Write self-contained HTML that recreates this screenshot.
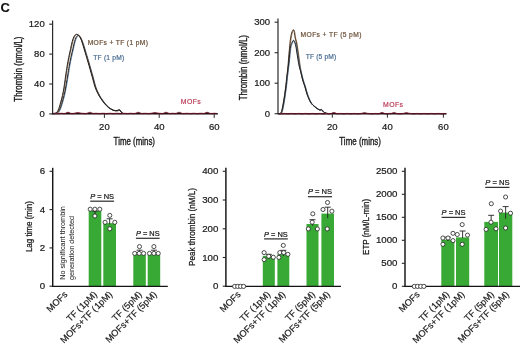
<!DOCTYPE html>
<html><head><meta charset="utf-8"><style>
html,body{margin:0;padding:0;background:#fff;width:520px;height:345px;overflow:hidden}
svg{display:block;font-family:"Liberation Sans", sans-serif;will-change:transform;filter:blur(0.3px)}
</style></head><body>
<svg width="520" height="345" viewBox="0 0 520 345">
<rect width="520" height="345" fill="#fff"/>
<text x="0.40" y="11.50" font-size="13.00" text-anchor="start" fill="#111" font-weight="bold" stroke="#111" stroke-width="0.10" >C</text>
<line x1="52.60" y1="20.60" x2="52.60" y2="114.40" stroke="#2a2a2a" stroke-width="1.20"/>
<line x1="49.20" y1="24.20" x2="52.60" y2="24.20" stroke="#2a2a2a" stroke-width="1.10"/>
<text x="44.70" y="27.30" font-size="8.80" text-anchor="end" fill="#1a1a1a" textLength="15.90" lengthAdjust="spacingAndGlyphs" stroke="#1a1a1a" stroke-width="0.20" >120</text>
<line x1="49.20" y1="54.10" x2="52.60" y2="54.10" stroke="#2a2a2a" stroke-width="1.10"/>
<text x="44.70" y="57.20" font-size="8.80" text-anchor="end" fill="#1a1a1a" textLength="10.60" lengthAdjust="spacingAndGlyphs" stroke="#1a1a1a" stroke-width="0.20" >80</text>
<line x1="49.20" y1="84.00" x2="52.60" y2="84.00" stroke="#2a2a2a" stroke-width="1.10"/>
<text x="44.70" y="87.10" font-size="8.80" text-anchor="end" fill="#1a1a1a" textLength="10.60" lengthAdjust="spacingAndGlyphs" stroke="#1a1a1a" stroke-width="0.20" >40</text>
<line x1="49.20" y1="113.90" x2="52.60" y2="113.90" stroke="#2a2a2a" stroke-width="1.10"/>
<text x="44.70" y="117.00" font-size="8.80" text-anchor="end" fill="#1a1a1a" textLength="5.30" lengthAdjust="spacingAndGlyphs" stroke="#1a1a1a" stroke-width="0.20" >0</text>
<line x1="52.60" y1="113.70" x2="217.80" y2="113.70" stroke="#220a10" stroke-width="1.60"/>
<line x1="104.40" y1="113.90" x2="104.40" y2="117.90" stroke="#2a2a2a" stroke-width="1.00"/>
<text x="104.40" y="129.60" font-size="8.80" text-anchor="middle" fill="#1a1a1a" textLength="10.60" lengthAdjust="spacingAndGlyphs" stroke="#1a1a1a" stroke-width="0.20" >20</text>
<line x1="159.20" y1="113.90" x2="159.20" y2="117.90" stroke="#2a2a2a" stroke-width="1.00"/>
<text x="159.20" y="129.60" font-size="8.80" text-anchor="middle" fill="#1a1a1a" textLength="10.60" lengthAdjust="spacingAndGlyphs" stroke="#1a1a1a" stroke-width="0.20" >40</text>
<line x1="214.20" y1="113.90" x2="214.20" y2="117.90" stroke="#2a2a2a" stroke-width="1.00"/>
<text x="214.20" y="129.60" font-size="8.80" text-anchor="middle" fill="#1a1a1a" textLength="10.60" lengthAdjust="spacingAndGlyphs" stroke="#1a1a1a" stroke-width="0.20" >60</text>
<text x="113.60" y="145.20" font-size="10.40" text-anchor="start" fill="#1a1a1a" textLength="41.40" lengthAdjust="spacingAndGlyphs" stroke="#1a1a1a" stroke-width="0.35" >Time (mins)</text>
<text x="21.60" y="101.70" font-size="10.40" text-anchor="start" fill="#1a1a1a" textLength="65.20" lengthAdjust="spacingAndGlyphs" transform="rotate(-90.00 21.60 101.70)" stroke="#1a1a1a" stroke-width="0.35" >Thrombin (nmol/L)</text>
<line x1="278.00" y1="18.50" x2="278.00" y2="114.20" stroke="#2a2a2a" stroke-width="1.20"/>
<line x1="274.60" y1="22.20" x2="278.00" y2="22.20" stroke="#2a2a2a" stroke-width="1.10"/>
<text x="270.10" y="25.30" font-size="8.80" text-anchor="end" fill="#1a1a1a" textLength="15.90" lengthAdjust="spacingAndGlyphs" stroke="#1a1a1a" stroke-width="0.20" >300</text>
<line x1="274.60" y1="52.70" x2="278.00" y2="52.70" stroke="#2a2a2a" stroke-width="1.10"/>
<text x="270.10" y="55.80" font-size="8.80" text-anchor="end" fill="#1a1a1a" textLength="15.90" lengthAdjust="spacingAndGlyphs" stroke="#1a1a1a" stroke-width="0.20" >200</text>
<line x1="274.60" y1="83.20" x2="278.00" y2="83.20" stroke="#2a2a2a" stroke-width="1.10"/>
<text x="270.10" y="86.30" font-size="8.80" text-anchor="end" fill="#1a1a1a" textLength="15.90" lengthAdjust="spacingAndGlyphs" stroke="#1a1a1a" stroke-width="0.20" >100</text>
<line x1="274.60" y1="113.70" x2="278.00" y2="113.70" stroke="#2a2a2a" stroke-width="1.10"/>
<text x="270.10" y="116.80" font-size="8.80" text-anchor="end" fill="#1a1a1a" textLength="5.30" lengthAdjust="spacingAndGlyphs" stroke="#1a1a1a" stroke-width="0.20" >0</text>
<line x1="278.00" y1="113.70" x2="446.50" y2="113.70" stroke="#220a10" stroke-width="1.60"/>
<line x1="332.30" y1="113.70" x2="332.30" y2="117.70" stroke="#2a2a2a" stroke-width="1.00"/>
<text x="332.30" y="129.60" font-size="8.80" text-anchor="middle" fill="#1a1a1a" textLength="10.60" lengthAdjust="spacingAndGlyphs" stroke="#1a1a1a" stroke-width="0.20" >20</text>
<line x1="387.40" y1="113.70" x2="387.40" y2="117.70" stroke="#2a2a2a" stroke-width="1.00"/>
<text x="387.40" y="129.60" font-size="8.80" text-anchor="middle" fill="#1a1a1a" textLength="10.60" lengthAdjust="spacingAndGlyphs" stroke="#1a1a1a" stroke-width="0.20" >40</text>
<line x1="443.40" y1="113.70" x2="443.40" y2="117.70" stroke="#2a2a2a" stroke-width="1.00"/>
<text x="443.40" y="129.60" font-size="8.80" text-anchor="middle" fill="#1a1a1a" textLength="10.60" lengthAdjust="spacingAndGlyphs" stroke="#1a1a1a" stroke-width="0.20" >60</text>
<text x="339.30" y="145.20" font-size="10.40" text-anchor="start" fill="#1a1a1a" textLength="41.70" lengthAdjust="spacingAndGlyphs" stroke="#1a1a1a" stroke-width="0.35" >Time (mins)</text>
<text x="247.40" y="100.30" font-size="10.40" text-anchor="start" fill="#1a1a1a" textLength="65.30" lengthAdjust="spacingAndGlyphs" transform="rotate(-90.00 247.40 100.30)" stroke="#1a1a1a" stroke-width="0.35" >Thrombin (nmol/L)</text>
<path d="M52.60 113.60 C53.22 113.55 55.27 113.70 56.30 113.30 C57.33 112.90 57.95 112.63 58.80 111.20 C59.65 109.77 60.40 107.92 61.40 104.70 C62.40 101.48 63.77 96.68 64.80 91.90 C65.83 87.12 66.87 80.30 67.60 76.00 C68.33 71.70 68.65 69.20 69.20 66.10 C69.75 63.00 70.28 60.30 70.90 57.40 C71.52 54.50 72.30 51.30 72.90 48.70 C73.50 46.10 73.98 43.65 74.50 41.80 C75.02 39.95 75.55 38.58 76.00 37.60 C76.45 36.62 76.82 36.25 77.20 35.90 C77.58 35.55 77.90 35.38 78.30 35.50 C78.70 35.62 79.10 35.92 79.60 36.60 C80.10 37.28 80.68 38.22 81.30 39.60 C81.92 40.98 82.53 42.60 83.30 44.90 C84.07 47.20 85.03 50.53 85.90 53.40 C86.77 56.27 87.35 58.13 88.50 62.10 C89.65 66.07 91.65 73.07 92.80 77.20 C93.95 81.33 94.48 84.17 95.40 86.90 C96.32 89.63 97.35 91.68 98.30 93.60 C99.25 95.52 99.98 96.72 101.10 98.40 C102.22 100.08 103.72 102.18 105.00 103.70 C106.28 105.22 107.38 106.40 108.80 107.50 C110.22 108.60 112.10 109.78 113.50 110.30 C114.90 110.82 116.32 110.65 117.20 110.60 C118.08 110.55 118.37 110.08 118.80 110.00 C119.23 109.92 119.37 109.70 119.80 110.10 C120.23 110.50 120.87 111.83 121.40 112.40 C121.93 112.97 122.73 113.32 123.00 113.50" fill="none" stroke="#44709e" stroke-width="0.8" stroke-linejoin="round" transform="translate(0.55 0.25)"/>
<path d="M52.60 113.60 C53.22 113.55 55.27 113.70 56.30 113.30 C57.33 112.90 57.95 112.63 58.80 111.20 C59.65 109.77 60.40 107.92 61.40 104.70 C62.40 101.48 63.77 96.68 64.80 91.90 C65.83 87.12 66.87 80.30 67.60 76.00 C68.33 71.70 68.65 69.20 69.20 66.10 C69.75 63.00 70.28 60.30 70.90 57.40 C71.52 54.50 72.30 51.30 72.90 48.70 C73.50 46.10 73.98 43.65 74.50 41.80 C75.02 39.95 75.55 38.58 76.00 37.60 C76.45 36.62 76.82 36.25 77.20 35.90 C77.58 35.55 77.90 35.38 78.30 35.50 C78.70 35.62 79.10 35.92 79.60 36.60 C80.10 37.28 80.68 38.22 81.30 39.60 C81.92 40.98 82.53 42.60 83.30 44.90 C84.07 47.20 85.03 50.53 85.90 53.40 C86.77 56.27 87.35 58.13 88.50 62.10 C89.65 66.07 91.65 73.07 92.80 77.20 C93.95 81.33 94.48 84.17 95.40 86.90 C96.32 89.63 97.35 91.68 98.30 93.60 C99.25 95.52 99.98 96.72 101.10 98.40 C102.22 100.08 103.72 102.18 105.00 103.70 C106.28 105.22 107.38 106.40 108.80 107.50 C110.22 108.60 112.10 109.78 113.50 110.30 C114.90 110.82 116.32 110.65 117.20 110.60 C118.08 110.55 118.37 110.08 118.80 110.00 C119.23 109.92 119.37 109.70 119.80 110.10 C120.23 110.50 120.87 111.83 121.40 112.40 C121.93 112.97 122.73 113.32 123.00 113.50" fill="none" stroke="#1c1c1c" stroke-width="0.95" stroke-linejoin="round"/>
<path d="M52.60 113.60 C53.00 113.55 54.17 113.70 55.00 113.30 C55.83 112.90 56.77 112.63 57.60 111.20 C58.43 109.77 59.07 107.92 60.00 104.70 C60.93 101.48 62.27 96.68 63.20 91.90 C64.13 87.12 64.95 80.30 65.60 76.00 C66.25 71.70 66.58 69.20 67.10 66.10 C67.62 63.00 68.12 60.30 68.70 57.40 C69.28 54.50 70.02 51.35 70.60 48.70 C71.18 46.05 71.67 43.45 72.20 41.50 C72.73 39.55 73.28 38.12 73.80 37.00 C74.32 35.88 74.83 35.25 75.30 34.80 C75.77 34.35 76.15 34.30 76.60 34.30 C77.05 34.30 77.55 34.52 78.00 34.80 C78.45 35.08 78.80 35.27 79.30 36.00 C79.80 36.73 80.42 37.75 81.00 39.20 C81.58 40.65 82.07 42.33 82.80 44.70 C83.53 47.07 84.53 50.50 85.40 53.40 C86.27 56.30 86.85 58.13 88.00 62.10 C89.15 66.07 91.13 73.07 92.30 77.20 C93.47 81.33 94.07 84.17 95.00 86.90 C95.93 89.63 96.95 91.68 97.90 93.60 C98.85 95.52 99.58 96.72 100.70 98.40 C101.82 100.08 103.32 102.18 104.60 103.70 C105.88 105.22 106.97 106.42 108.40 107.50 C109.83 108.58 111.77 109.70 113.20 110.20 C114.63 110.70 116.10 110.55 117.00 110.50 C117.90 110.45 118.17 109.98 118.60 109.90 C119.03 109.82 119.15 109.60 119.60 110.00 C120.05 110.40 120.73 111.72 121.30 112.30 C121.87 112.88 122.72 113.30 123.00 113.50" fill="none" stroke="#7d5530" stroke-width="0.8" stroke-linejoin="round" transform="translate(0.55 0.25)"/>
<path d="M52.60 113.60 C53.00 113.55 54.17 113.70 55.00 113.30 C55.83 112.90 56.77 112.63 57.60 111.20 C58.43 109.77 59.07 107.92 60.00 104.70 C60.93 101.48 62.27 96.68 63.20 91.90 C64.13 87.12 64.95 80.30 65.60 76.00 C66.25 71.70 66.58 69.20 67.10 66.10 C67.62 63.00 68.12 60.30 68.70 57.40 C69.28 54.50 70.02 51.35 70.60 48.70 C71.18 46.05 71.67 43.45 72.20 41.50 C72.73 39.55 73.28 38.12 73.80 37.00 C74.32 35.88 74.83 35.25 75.30 34.80 C75.77 34.35 76.15 34.30 76.60 34.30 C77.05 34.30 77.55 34.52 78.00 34.80 C78.45 35.08 78.80 35.27 79.30 36.00 C79.80 36.73 80.42 37.75 81.00 39.20 C81.58 40.65 82.07 42.33 82.80 44.70 C83.53 47.07 84.53 50.50 85.40 53.40 C86.27 56.30 86.85 58.13 88.00 62.10 C89.15 66.07 91.13 73.07 92.30 77.20 C93.47 81.33 94.07 84.17 95.00 86.90 C95.93 89.63 96.95 91.68 97.90 93.60 C98.85 95.52 99.58 96.72 100.70 98.40 C101.82 100.08 103.32 102.18 104.60 103.70 C105.88 105.22 106.97 106.42 108.40 107.50 C109.83 108.58 111.77 109.70 113.20 110.20 C114.63 110.70 116.10 110.55 117.00 110.50 C117.90 110.45 118.17 109.98 118.60 109.90 C119.03 109.82 119.15 109.60 119.60 110.00 C120.05 110.40 120.73 111.72 121.30 112.30 C121.87 112.88 122.72 113.30 123.00 113.50" fill="none" stroke="#1c1c1c" stroke-width="0.95" stroke-linejoin="round"/>
<path d="M278.00 113.60 C278.40 113.55 279.77 113.83 280.40 113.30 C281.03 112.77 281.32 112.12 281.80 110.40 C282.28 108.68 282.83 105.60 283.30 103.00 C283.77 100.40 284.18 97.63 284.60 94.80 C285.02 91.97 285.45 88.90 285.80 86.00 C286.15 83.10 286.40 80.07 286.70 77.40 C287.00 74.73 287.33 72.57 287.60 70.00 C287.87 67.43 288.08 64.67 288.30 62.00 C288.52 59.33 288.70 56.33 288.90 54.00 C289.10 51.67 289.33 49.77 289.50 48.00 C289.67 46.23 289.72 45.08 289.90 43.40 C290.08 41.72 290.32 39.63 290.60 37.90 C290.88 36.17 291.27 34.22 291.60 33.00 C291.93 31.78 292.30 31.15 292.60 30.60 C292.90 30.05 293.17 29.60 293.40 29.70 C293.63 29.80 293.83 30.65 294.00 31.20 C294.17 31.75 294.22 31.88 294.40 33.00 C294.58 34.12 294.80 36.40 295.10 37.90 C295.40 39.40 295.85 40.32 296.20 42.00 C296.55 43.68 296.87 45.83 297.20 48.00 C297.53 50.17 297.85 52.50 298.20 55.00 C298.55 57.50 298.90 60.33 299.30 63.00 C299.70 65.67 300.05 68.17 300.60 71.00 C301.15 73.83 301.90 77.40 302.60 80.00 C303.30 82.60 304.07 84.22 304.80 86.60 C305.53 88.98 306.08 91.73 307.00 94.30 C307.92 96.87 309.20 100.07 310.30 102.00 C311.40 103.93 312.32 104.70 313.60 105.90 C314.88 107.10 316.90 108.53 318.00 109.20 C319.10 109.87 319.68 109.88 320.20 109.90 C320.72 109.92 320.80 109.25 321.10 109.30 C321.40 109.35 321.60 109.75 322.00 110.20 C322.40 110.65 322.83 111.50 323.50 112.00 C324.17 112.50 325.08 112.93 326.00 113.20 C326.92 113.47 328.50 113.53 329.00 113.60" fill="none" stroke="#7d5530" stroke-width="0.8" stroke-linejoin="round" transform="translate(0.55 0.25)"/>
<path d="M278.00 113.60 C278.40 113.55 279.77 113.83 280.40 113.30 C281.03 112.77 281.32 112.12 281.80 110.40 C282.28 108.68 282.83 105.60 283.30 103.00 C283.77 100.40 284.18 97.63 284.60 94.80 C285.02 91.97 285.45 88.90 285.80 86.00 C286.15 83.10 286.40 80.07 286.70 77.40 C287.00 74.73 287.33 72.57 287.60 70.00 C287.87 67.43 288.08 64.67 288.30 62.00 C288.52 59.33 288.70 56.33 288.90 54.00 C289.10 51.67 289.33 49.77 289.50 48.00 C289.67 46.23 289.72 45.08 289.90 43.40 C290.08 41.72 290.32 39.63 290.60 37.90 C290.88 36.17 291.27 34.22 291.60 33.00 C291.93 31.78 292.30 31.15 292.60 30.60 C292.90 30.05 293.17 29.60 293.40 29.70 C293.63 29.80 293.83 30.65 294.00 31.20 C294.17 31.75 294.22 31.88 294.40 33.00 C294.58 34.12 294.80 36.40 295.10 37.90 C295.40 39.40 295.85 40.32 296.20 42.00 C296.55 43.68 296.87 45.83 297.20 48.00 C297.53 50.17 297.85 52.50 298.20 55.00 C298.55 57.50 298.90 60.33 299.30 63.00 C299.70 65.67 300.05 68.17 300.60 71.00 C301.15 73.83 301.90 77.40 302.60 80.00 C303.30 82.60 304.07 84.22 304.80 86.60 C305.53 88.98 306.08 91.73 307.00 94.30 C307.92 96.87 309.20 100.07 310.30 102.00 C311.40 103.93 312.32 104.70 313.60 105.90 C314.88 107.10 316.90 108.53 318.00 109.20 C319.10 109.87 319.68 109.88 320.20 109.90 C320.72 109.92 320.80 109.25 321.10 109.30 C321.40 109.35 321.60 109.75 322.00 110.20 C322.40 110.65 322.83 111.50 323.50 112.00 C324.17 112.50 325.08 112.93 326.00 113.20 C326.92 113.47 328.50 113.53 329.00 113.60" fill="none" stroke="#4a3522" stroke-width="0.95" stroke-linejoin="round"/>
<path d="M278.00 113.60 C278.43 113.55 279.93 113.83 280.60 113.30 C281.27 112.77 281.52 112.12 282.00 110.40 C282.48 108.68 283.03 105.60 283.50 103.00 C283.97 100.40 284.38 97.63 284.80 94.80 C285.22 91.97 285.65 88.90 286.00 86.00 C286.35 83.10 286.60 80.07 286.90 77.40 C287.20 74.73 287.50 72.40 287.80 70.00 C288.10 67.60 288.40 65.58 288.70 63.00 C289.00 60.42 289.30 57.20 289.60 54.50 C289.90 51.80 290.12 48.75 290.50 46.80 C290.88 44.85 291.42 43.88 291.90 42.80 C292.38 41.72 292.92 40.30 293.40 40.30 C293.88 40.30 294.37 41.68 294.80 42.80 C295.23 43.92 295.65 45.30 296.00 47.00 C296.35 48.70 296.58 51.00 296.90 53.00 C297.22 55.00 297.53 56.83 297.90 59.00 C298.27 61.17 298.62 63.83 299.10 66.00 C299.58 68.17 300.18 69.67 300.80 72.00 C301.42 74.33 302.10 77.57 302.80 80.00 C303.50 82.43 304.27 84.22 305.00 86.60 C305.73 88.98 306.28 91.73 307.20 94.30 C308.12 96.87 309.40 100.07 310.50 102.00 C311.60 103.93 312.52 104.70 313.80 105.90 C315.08 107.10 317.10 108.52 318.20 109.20 C319.30 109.88 319.88 109.95 320.40 110.00 C320.92 110.05 321.00 109.45 321.30 109.50 C321.60 109.55 321.80 109.87 322.20 110.30 C322.60 110.73 323.07 111.62 323.70 112.10 C324.33 112.58 325.12 112.95 326.00 113.20 C326.88 113.45 328.50 113.53 329.00 113.60" fill="none" stroke="#44709e" stroke-width="0.8" stroke-linejoin="round" transform="translate(0.55 0.25)"/>
<path d="M278.00 113.60 C278.43 113.55 279.93 113.83 280.60 113.30 C281.27 112.77 281.52 112.12 282.00 110.40 C282.48 108.68 283.03 105.60 283.50 103.00 C283.97 100.40 284.38 97.63 284.80 94.80 C285.22 91.97 285.65 88.90 286.00 86.00 C286.35 83.10 286.60 80.07 286.90 77.40 C287.20 74.73 287.50 72.40 287.80 70.00 C288.10 67.60 288.40 65.58 288.70 63.00 C289.00 60.42 289.30 57.20 289.60 54.50 C289.90 51.80 290.12 48.75 290.50 46.80 C290.88 44.85 291.42 43.88 291.90 42.80 C292.38 41.72 292.92 40.30 293.40 40.30 C293.88 40.30 294.37 41.68 294.80 42.80 C295.23 43.92 295.65 45.30 296.00 47.00 C296.35 48.70 296.58 51.00 296.90 53.00 C297.22 55.00 297.53 56.83 297.90 59.00 C298.27 61.17 298.62 63.83 299.10 66.00 C299.58 68.17 300.18 69.67 300.80 72.00 C301.42 74.33 302.10 77.57 302.80 80.00 C303.50 82.43 304.27 84.22 305.00 86.60 C305.73 88.98 306.28 91.73 307.20 94.30 C308.12 96.87 309.40 100.07 310.50 102.00 C311.60 103.93 312.52 104.70 313.80 105.90 C315.08 107.10 317.10 108.52 318.20 109.20 C319.30 109.88 319.88 109.95 320.40 110.00 C320.92 110.05 321.00 109.45 321.30 109.50 C321.60 109.55 321.80 109.87 322.20 110.30 C322.60 110.73 323.07 111.62 323.70 112.10 C324.33 112.58 325.12 112.95 326.00 113.20 C326.88 113.45 328.50 113.53 329.00 113.60" fill="none" stroke="#1c1c1c" stroke-width="0.95" stroke-linejoin="round"/>
<path d="M53.50 113.50 C53.70 113.50 54.30 113.48 54.70 113.50 C55.10 113.51 55.50 113.57 55.90 113.61 C56.30 113.64 56.70 113.69 57.10 113.71 C57.50 113.72 57.90 113.72 58.30 113.70 C58.70 113.68 59.10 113.62 59.50 113.58 C59.90 113.55 60.30 113.50 60.70 113.49 C61.10 113.48 61.50 113.49 61.90 113.51 C62.30 113.53 62.70 113.60 63.10 113.63 C63.50 113.66 63.90 113.71 64.30 113.68 C64.70 113.66 65.10 113.60 65.50 113.47 C65.90 113.34 66.30 113.07 66.70 112.90 C67.10 112.74 67.50 112.50 67.90 112.48 C68.30 112.46 68.70 112.64 69.10 112.79 C69.50 112.94 69.90 113.24 70.30 113.38 C70.70 113.53 71.10 113.63 71.50 113.67 C71.90 113.72 72.30 113.68 72.70 113.66 C73.10 113.63 73.50 113.57 73.90 113.52 C74.30 113.47 74.70 113.43 75.10 113.36 C75.50 113.28 75.90 113.17 76.30 113.06 C76.70 112.96 77.10 112.77 77.50 112.73 C77.90 112.69 78.30 112.75 78.70 112.83 C79.10 112.92 79.50 113.14 79.90 113.24 C80.30 113.33 80.70 113.39 81.10 113.43 C81.50 113.47 81.90 113.45 82.30 113.47 C82.70 113.50 83.10 113.53 83.50 113.57 C83.90 113.61 84.30 113.67 84.70 113.69 C85.10 113.71 85.50 113.73 85.90 113.70 C86.30 113.67 86.70 113.61 87.10 113.50 C87.50 113.38 87.90 113.18 88.30 113.02 C88.70 112.86 89.10 112.60 89.50 112.55 C89.90 112.50 90.30 112.58 90.70 112.71 C91.10 112.83 91.50 113.15 91.90 113.30 C92.30 113.45 92.70 113.56 93.10 113.61 C93.50 113.66 93.90 113.60 94.30 113.58 C94.70 113.56 95.10 113.50 95.50 113.49 C95.90 113.48 96.30 113.48 96.70 113.50 C97.10 113.52 97.50 113.58 97.90 113.62 C98.30 113.65 98.70 113.70 99.10 113.71 C99.50 113.72 99.90 113.71 100.30 113.69 C100.70 113.67 101.10 113.61 101.50 113.57 C101.90 113.54 102.30 113.49 102.70 113.48 C103.10 113.48 103.50 113.49 103.90 113.52 C104.30 113.55 104.70 113.61 105.10 113.64 C105.50 113.67 105.90 113.71 106.30 113.72 C106.70 113.72 107.10 113.70 107.50 113.67 C107.90 113.64 108.30 113.58 108.70 113.55 C109.10 113.52 109.50 113.48 109.90 113.48 C110.30 113.48 110.70 113.51 111.10 113.54 C111.50 113.57 111.90 113.63 112.30 113.66 C112.70 113.69 113.10 113.72 113.50 113.72 C113.90 113.72 114.30 113.68 114.70 113.65 C115.10 113.62 115.50 113.56 115.90 113.53 C116.30 113.50 116.70 113.48 117.10 113.48 C117.50 113.49 117.90 113.53 118.30 113.56 C118.70 113.59 119.10 113.65 119.50 113.68 C119.90 113.71 120.30 113.72 120.70 113.72 C121.10 113.71 121.50 113.66 121.90 113.63 C122.30 113.59 122.70 113.53 123.10 113.51 C123.50 113.49 123.90 113.48 124.30 113.49 C124.70 113.50 125.10 113.55 125.50 113.58 C125.90 113.62 126.30 113.68 126.70 113.70 C127.10 113.72 127.50 113.72 127.90 113.71 C128.30 113.69 128.70 113.64 129.10 113.61 C129.50 113.57 129.90 113.52 130.30 113.50 C130.70 113.48 131.10 113.48 131.50 113.50 C131.90 113.52 132.30 113.57 132.70 113.61 C133.10 113.64 133.50 113.70 133.90 113.70 C134.30 113.70 134.70 113.70 135.10 113.62 C135.50 113.54 135.90 113.38 136.30 113.21 C136.70 113.05 137.10 112.75 137.50 112.63 C137.90 112.52 138.30 112.47 138.70 112.55 C139.10 112.63 139.50 112.93 139.90 113.10 C140.30 113.27 140.70 113.48 141.10 113.58 C141.50 113.67 141.90 113.67 142.30 113.66 C142.70 113.66 143.10 113.59 143.50 113.56 C143.90 113.53 144.30 113.49 144.70 113.48 C145.10 113.48 145.50 113.50 145.90 113.53 C146.30 113.56 146.70 113.62 147.10 113.65 C147.50 113.68 147.90 113.72 148.30 113.72 C148.70 113.72 149.10 113.69 149.50 113.66 C149.90 113.63 150.30 113.57 150.70 113.53 C151.10 113.49 151.50 113.46 151.90 113.40 C152.30 113.34 152.70 113.28 153.10 113.18 C153.50 113.08 153.90 112.89 154.30 112.82 C154.70 112.75 155.10 112.71 155.50 112.76 C155.90 112.81 156.30 113.01 156.70 113.11 C157.10 113.22 157.50 113.32 157.90 113.38 C158.30 113.44 158.70 113.43 159.10 113.47 C159.50 113.50 159.90 113.53 160.30 113.57 C160.70 113.61 161.10 113.67 161.50 113.69 C161.90 113.70 162.30 113.72 162.70 113.67 C163.10 113.61 163.50 113.50 163.90 113.35 C164.30 113.20 164.70 112.91 165.10 112.76 C165.50 112.62 165.90 112.47 166.30 112.49 C166.70 112.52 167.10 112.77 167.50 112.94 C167.90 113.11 168.30 113.37 168.70 113.49 C169.10 113.62 169.50 113.65 169.90 113.67 C170.30 113.69 170.70 113.62 171.10 113.59 C171.50 113.56 171.90 113.51 172.30 113.49 C172.70 113.48 173.10 113.48 173.50 113.50 C173.90 113.52 174.30 113.59 174.70 113.61 C175.10 113.63 175.50 113.68 175.90 113.62 C176.30 113.57 176.70 113.44 177.10 113.28 C177.50 113.13 177.90 112.81 178.30 112.69 C178.70 112.56 179.10 112.49 179.50 112.54 C179.90 112.60 180.30 112.87 180.70 113.03 C181.10 113.20 181.50 113.41 181.90 113.52 C182.30 113.63 182.70 113.68 183.10 113.70 C183.50 113.73 183.90 113.70 184.30 113.67 C184.70 113.64 185.10 113.58 185.50 113.55 C185.90 113.52 186.30 113.48 186.70 113.48 C187.10 113.48 187.50 113.51 187.90 113.54 C188.30 113.57 188.70 113.63 189.10 113.66 C189.50 113.69 189.90 113.72 190.30 113.72 C190.70 113.72 191.10 113.68 191.50 113.65 C191.90 113.62 192.30 113.56 192.70 113.53 C193.10 113.50 193.50 113.48 193.90 113.48 C194.30 113.49 194.70 113.53 195.10 113.56 C195.50 113.59 195.90 113.65 196.30 113.68 C196.70 113.71 197.10 113.72 197.50 113.72 C197.90 113.71 198.30 113.66 198.70 113.63 C199.10 113.59 199.50 113.53 199.90 113.51 C200.30 113.49 200.70 113.48 201.10 113.49 C201.50 113.50 201.90 113.55 202.30 113.58 C202.70 113.61 203.10 113.67 203.50 113.65 C203.90 113.63 204.30 113.57 204.70 113.44 C205.10 113.31 205.50 113.02 205.90 112.87 C206.30 112.71 206.70 112.50 207.10 112.50 C207.50 112.50 207.90 112.69 208.30 112.84 C208.70 112.99 209.10 113.26 209.50 113.40 C209.90 113.54 210.30 113.63 210.70 113.68 C211.10 113.73 211.50 113.71 211.90 113.69 C212.30 113.68 212.70 113.62 213.10 113.58 C213.50 113.55 213.90 113.50 214.30 113.49 C214.70 113.48 215.10 113.49 215.50 113.51 C215.90 113.54 216.50 113.61 216.70 113.63" fill="none" stroke="#3a0c16" stroke-width="0.9"/>
<path d="M53.50 113.50 C53.70 113.50 54.30 113.48 54.70 113.50 C55.10 113.51 55.50 113.57 55.90 113.61 C56.30 113.64 56.70 113.69 57.10 113.71 C57.50 113.72 57.90 113.72 58.30 113.70 C58.70 113.68 59.10 113.62 59.50 113.58 C59.90 113.55 60.30 113.50 60.70 113.49 C61.10 113.48 61.50 113.49 61.90 113.51 C62.30 113.53 62.70 113.60 63.10 113.63 C63.50 113.66 63.90 113.71 64.30 113.68 C64.70 113.66 65.10 113.60 65.50 113.47 C65.90 113.34 66.30 113.07 66.70 112.90 C67.10 112.74 67.50 112.50 67.90 112.48 C68.30 112.46 68.70 112.64 69.10 112.79 C69.50 112.94 69.90 113.24 70.30 113.38 C70.70 113.53 71.10 113.63 71.50 113.67 C71.90 113.72 72.30 113.68 72.70 113.66 C73.10 113.63 73.50 113.57 73.90 113.52 C74.30 113.47 74.70 113.43 75.10 113.36 C75.50 113.28 75.90 113.17 76.30 113.06 C76.70 112.96 77.10 112.77 77.50 112.73 C77.90 112.69 78.30 112.75 78.70 112.83 C79.10 112.92 79.50 113.14 79.90 113.24 C80.30 113.33 80.70 113.39 81.10 113.43 C81.50 113.47 81.90 113.45 82.30 113.47 C82.70 113.50 83.10 113.53 83.50 113.57 C83.90 113.61 84.30 113.67 84.70 113.69 C85.10 113.71 85.50 113.73 85.90 113.70 C86.30 113.67 86.70 113.61 87.10 113.50 C87.50 113.38 87.90 113.18 88.30 113.02 C88.70 112.86 89.10 112.60 89.50 112.55 C89.90 112.50 90.30 112.58 90.70 112.71 C91.10 112.83 91.50 113.15 91.90 113.30 C92.30 113.45 92.70 113.56 93.10 113.61 C93.50 113.66 93.90 113.60 94.30 113.58 C94.70 113.56 95.10 113.50 95.50 113.49 C95.90 113.48 96.30 113.48 96.70 113.50 C97.10 113.52 97.50 113.58 97.90 113.62 C98.30 113.65 98.70 113.70 99.10 113.71 C99.50 113.72 99.90 113.71 100.30 113.69 C100.70 113.67 101.10 113.61 101.50 113.57 C101.90 113.54 102.30 113.49 102.70 113.48 C103.10 113.48 103.50 113.49 103.90 113.52 C104.30 113.55 104.70 113.61 105.10 113.64 C105.50 113.67 105.90 113.71 106.30 113.72 C106.70 113.72 107.10 113.70 107.50 113.67 C107.90 113.64 108.30 113.58 108.70 113.55 C109.10 113.52 109.50 113.48 109.90 113.48 C110.30 113.48 110.70 113.51 111.10 113.54 C111.50 113.57 111.90 113.63 112.30 113.66 C112.70 113.69 113.10 113.72 113.50 113.72 C113.90 113.72 114.30 113.68 114.70 113.65 C115.10 113.62 115.50 113.56 115.90 113.53 C116.30 113.50 116.70 113.48 117.10 113.48 C117.50 113.49 117.90 113.53 118.30 113.56 C118.70 113.59 119.10 113.65 119.50 113.68 C119.90 113.71 120.30 113.72 120.70 113.72 C121.10 113.71 121.50 113.66 121.90 113.63 C122.30 113.59 122.70 113.53 123.10 113.51 C123.50 113.49 123.90 113.48 124.30 113.49 C124.70 113.50 125.10 113.55 125.50 113.58 C125.90 113.62 126.30 113.68 126.70 113.70 C127.10 113.72 127.50 113.72 127.90 113.71 C128.30 113.69 128.70 113.64 129.10 113.61 C129.50 113.57 129.90 113.52 130.30 113.50 C130.70 113.48 131.10 113.48 131.50 113.50 C131.90 113.52 132.30 113.57 132.70 113.61 C133.10 113.64 133.50 113.70 133.90 113.70 C134.30 113.70 134.70 113.70 135.10 113.62 C135.50 113.54 135.90 113.38 136.30 113.21 C136.70 113.05 137.10 112.75 137.50 112.63 C137.90 112.52 138.30 112.47 138.70 112.55 C139.10 112.63 139.50 112.93 139.90 113.10 C140.30 113.27 140.70 113.48 141.10 113.58 C141.50 113.67 141.90 113.67 142.30 113.66 C142.70 113.66 143.10 113.59 143.50 113.56 C143.90 113.53 144.30 113.49 144.70 113.48 C145.10 113.48 145.50 113.50 145.90 113.53 C146.30 113.56 146.70 113.62 147.10 113.65 C147.50 113.68 147.90 113.72 148.30 113.72 C148.70 113.72 149.10 113.69 149.50 113.66 C149.90 113.63 150.30 113.57 150.70 113.53 C151.10 113.49 151.50 113.46 151.90 113.40 C152.30 113.34 152.70 113.28 153.10 113.18 C153.50 113.08 153.90 112.89 154.30 112.82 C154.70 112.75 155.10 112.71 155.50 112.76 C155.90 112.81 156.30 113.01 156.70 113.11 C157.10 113.22 157.50 113.32 157.90 113.38 C158.30 113.44 158.70 113.43 159.10 113.47 C159.50 113.50 159.90 113.53 160.30 113.57 C160.70 113.61 161.10 113.67 161.50 113.69 C161.90 113.70 162.30 113.72 162.70 113.67 C163.10 113.61 163.50 113.50 163.90 113.35 C164.30 113.20 164.70 112.91 165.10 112.76 C165.50 112.62 165.90 112.47 166.30 112.49 C166.70 112.52 167.10 112.77 167.50 112.94 C167.90 113.11 168.30 113.37 168.70 113.49 C169.10 113.62 169.50 113.65 169.90 113.67 C170.30 113.69 170.70 113.62 171.10 113.59 C171.50 113.56 171.90 113.51 172.30 113.49 C172.70 113.48 173.10 113.48 173.50 113.50 C173.90 113.52 174.30 113.59 174.70 113.61 C175.10 113.63 175.50 113.68 175.90 113.62 C176.30 113.57 176.70 113.44 177.10 113.28 C177.50 113.13 177.90 112.81 178.30 112.69 C178.70 112.56 179.10 112.49 179.50 112.54 C179.90 112.60 180.30 112.87 180.70 113.03 C181.10 113.20 181.50 113.41 181.90 113.52 C182.30 113.63 182.70 113.68 183.10 113.70 C183.50 113.73 183.90 113.70 184.30 113.67 C184.70 113.64 185.10 113.58 185.50 113.55 C185.90 113.52 186.30 113.48 186.70 113.48 C187.10 113.48 187.50 113.51 187.90 113.54 C188.30 113.57 188.70 113.63 189.10 113.66 C189.50 113.69 189.90 113.72 190.30 113.72 C190.70 113.72 191.10 113.68 191.50 113.65 C191.90 113.62 192.30 113.56 192.70 113.53 C193.10 113.50 193.50 113.48 193.90 113.48 C194.30 113.49 194.70 113.53 195.10 113.56 C195.50 113.59 195.90 113.65 196.30 113.68 C196.70 113.71 197.10 113.72 197.50 113.72 C197.90 113.71 198.30 113.66 198.70 113.63 C199.10 113.59 199.50 113.53 199.90 113.51 C200.30 113.49 200.70 113.48 201.10 113.49 C201.50 113.50 201.90 113.55 202.30 113.58 C202.70 113.61 203.10 113.67 203.50 113.65 C203.90 113.63 204.30 113.57 204.70 113.44 C205.10 113.31 205.50 113.02 205.90 112.87 C206.30 112.71 206.70 112.50 207.10 112.50 C207.50 112.50 207.90 112.69 208.30 112.84 C208.70 112.99 209.10 113.26 209.50 113.40 C209.90 113.54 210.30 113.63 210.70 113.68 C211.10 113.73 211.50 113.71 211.90 113.69 C212.30 113.68 212.70 113.62 213.10 113.58 C213.50 113.55 213.90 113.50 214.30 113.49 C214.70 113.48 215.10 113.49 215.50 113.51 C215.90 113.54 216.50 113.61 216.70 113.63" fill="none" stroke="#8c1c34" stroke-width="0.6" transform="translate(0 -0.3)"/>
<path d="M279.00 113.77 C279.20 113.79 279.80 113.87 280.20 113.89 C280.60 113.91 281.00 113.92 281.40 113.91 C281.80 113.90 282.20 113.85 282.60 113.82 C283.00 113.78 283.40 113.72 283.80 113.70 C284.20 113.68 284.60 113.68 285.00 113.69 C285.40 113.71 285.80 113.76 286.20 113.80 C286.60 113.83 287.00 113.89 287.40 113.90 C287.80 113.92 288.20 113.92 288.60 113.90 C289.00 113.88 289.40 113.83 289.80 113.79 C290.20 113.76 290.60 113.71 291.00 113.69 C291.40 113.68 291.80 113.68 292.20 113.70 C292.60 113.73 293.00 113.79 293.40 113.82 C293.80 113.85 294.20 113.90 294.60 113.91 C295.00 113.92 295.40 113.91 295.80 113.89 C296.20 113.86 296.60 113.80 297.00 113.77 C297.40 113.73 297.80 113.69 298.20 113.68 C298.60 113.68 299.00 113.69 299.40 113.72 C299.80 113.75 300.20 113.81 300.60 113.84 C301.00 113.88 301.40 113.91 301.80 113.92 C302.20 113.92 302.60 113.90 303.00 113.87 C303.40 113.84 303.80 113.78 304.20 113.75 C304.60 113.71 305.00 113.68 305.40 113.68 C305.80 113.68 306.20 113.71 306.60 113.74 C307.00 113.77 307.40 113.83 307.80 113.86 C308.20 113.89 308.60 113.92 309.00 113.92 C309.40 113.92 309.80 113.88 310.20 113.85 C310.60 113.82 311.00 113.75 311.40 113.73 C311.80 113.70 312.20 113.68 312.60 113.68 C313.00 113.69 313.40 113.73 313.80 113.76 C314.20 113.80 314.60 113.86 315.00 113.88 C315.40 113.91 315.80 113.93 316.20 113.92 C316.60 113.91 317.00 113.86 317.40 113.83 C317.80 113.79 318.20 113.73 318.60 113.71 C319.00 113.69 319.40 113.68 319.80 113.69 C320.20 113.70 320.60 113.75 321.00 113.78 C321.40 113.82 321.80 113.88 322.20 113.90 C322.60 113.92 323.00 113.92 323.40 113.91 C323.80 113.89 324.20 113.84 324.60 113.80 C325.00 113.77 325.40 113.71 325.80 113.70 C326.20 113.68 326.60 113.68 327.00 113.70 C327.40 113.72 327.80 113.77 328.20 113.81 C328.60 113.84 329.00 113.90 329.40 113.90 C329.80 113.91 330.20 113.91 330.60 113.84 C331.00 113.77 331.40 113.64 331.80 113.48 C332.20 113.33 332.60 113.03 333.00 112.91 C333.40 112.78 333.80 112.67 334.20 112.72 C334.60 112.77 335.00 113.05 335.40 113.22 C335.80 113.39 336.20 113.63 336.60 113.73 C337.00 113.84 337.40 113.85 337.80 113.85 C338.20 113.86 338.60 113.78 339.00 113.76 C339.40 113.73 339.80 113.68 340.20 113.68 C340.60 113.68 341.00 113.70 341.40 113.73 C341.80 113.76 342.20 113.82 342.60 113.85 C343.00 113.89 343.40 113.92 343.80 113.92 C344.20 113.92 344.60 113.89 345.00 113.86 C345.40 113.83 345.80 113.77 346.20 113.74 C346.60 113.71 347.00 113.68 347.40 113.68 C347.80 113.68 348.20 113.72 348.60 113.75 C349.00 113.78 349.40 113.85 349.80 113.87 C350.20 113.90 350.60 113.92 351.00 113.92 C351.40 113.91 351.80 113.87 352.20 113.84 C352.60 113.80 353.00 113.74 353.40 113.72 C353.80 113.69 354.20 113.67 354.60 113.68 C355.00 113.69 355.40 113.74 355.80 113.77 C356.20 113.81 356.60 113.87 357.00 113.89 C357.40 113.91 357.80 113.92 358.20 113.91 C358.60 113.90 359.00 113.85 359.40 113.81 C359.80 113.78 360.20 113.73 360.60 113.68 C361.00 113.64 361.40 113.62 361.80 113.55 C362.20 113.48 362.60 113.37 363.00 113.27 C363.40 113.17 363.80 112.98 364.20 112.94 C364.60 112.91 365.00 112.97 365.40 113.05 C365.80 113.13 366.20 113.33 366.60 113.42 C367.00 113.52 367.40 113.57 367.80 113.61 C368.20 113.66 368.60 113.66 369.00 113.70 C369.40 113.73 369.80 113.78 370.20 113.82 C370.60 113.86 371.00 113.90 371.40 113.91 C371.80 113.93 372.20 113.91 372.60 113.89 C373.00 113.86 373.40 113.80 373.80 113.77 C374.20 113.73 374.60 113.69 375.00 113.68 C375.40 113.68 375.80 113.70 376.20 113.72 C376.60 113.75 377.00 113.81 377.40 113.84 C377.80 113.86 378.20 113.91 378.60 113.86 C379.00 113.82 379.40 113.72 379.80 113.57 C380.20 113.42 380.60 113.11 381.00 112.97 C381.40 112.82 381.80 112.66 382.20 112.69 C382.60 112.72 383.00 112.96 383.40 113.13 C383.80 113.29 384.20 113.55 384.60 113.68 C385.00 113.81 385.40 113.86 385.80 113.89 C386.20 113.92 386.60 113.87 387.00 113.85 C387.40 113.82 387.80 113.75 388.20 113.73 C388.60 113.70 389.00 113.68 389.40 113.67 C389.80 113.67 390.20 113.71 390.60 113.69 C391.00 113.66 391.40 113.62 391.80 113.51 C392.20 113.41 392.60 113.17 393.00 113.06 C393.40 112.96 393.80 112.85 394.20 112.87 C394.60 112.89 395.00 113.07 395.40 113.18 C395.80 113.30 396.20 113.45 396.60 113.55 C397.00 113.64 397.40 113.71 397.80 113.77 C398.20 113.83 398.60 113.87 399.00 113.90 C399.40 113.92 399.80 113.92 400.20 113.91 C400.60 113.89 401.00 113.84 401.40 113.80 C401.80 113.76 402.20 113.72 402.60 113.67 C403.00 113.63 403.40 113.61 403.80 113.54 C404.20 113.46 404.60 113.34 405.00 113.24 C405.40 113.14 405.80 112.96 406.20 112.93 C406.60 112.91 407.00 112.99 407.40 113.08 C407.80 113.16 408.20 113.36 408.60 113.45 C409.00 113.54 409.40 113.58 409.80 113.62 C410.20 113.66 410.60 113.67 411.00 113.71 C411.40 113.74 411.80 113.80 412.20 113.83 C412.60 113.87 413.00 113.91 413.40 113.92 C413.80 113.92 414.20 113.90 414.60 113.88 C415.00 113.85 415.40 113.79 415.80 113.76 C416.20 113.72 416.60 113.69 417.00 113.68 C417.40 113.68 417.80 113.70 418.20 113.73 C418.60 113.76 419.00 113.82 419.40 113.85 C419.80 113.89 420.20 113.92 420.60 113.92 C421.00 113.92 421.40 113.89 421.80 113.86 C422.20 113.83 422.60 113.77 423.00 113.74 C423.40 113.71 423.80 113.68 424.20 113.68 C424.60 113.68 425.00 113.72 425.40 113.75 C425.80 113.78 426.20 113.85 426.60 113.87 C427.00 113.90 427.40 113.92 427.80 113.92 C428.20 113.91 428.60 113.87 429.00 113.84 C429.40 113.80 429.80 113.74 430.20 113.72 C430.60 113.69 431.00 113.67 431.40 113.68 C431.80 113.69 432.20 113.74 432.60 113.77 C433.00 113.81 433.40 113.87 433.80 113.89 C434.20 113.91 434.60 113.92 435.00 113.91 C435.40 113.90 435.80 113.85 436.20 113.81 C436.60 113.78 437.00 113.72 437.40 113.70 C437.80 113.68 438.20 113.68 438.60 113.69 C439.00 113.71 439.40 113.76 439.80 113.80 C440.20 113.83 440.60 113.89 441.00 113.90 C441.40 113.92 441.80 113.92 442.20 113.90 C442.60 113.88 443.00 113.83 443.40 113.79 C443.80 113.76 444.20 113.70 444.60 113.69 C445.00 113.68 445.60 113.70 445.80 113.71" fill="none" stroke="#3a0c16" stroke-width="0.9"/>
<path d="M279.00 113.77 C279.20 113.79 279.80 113.87 280.20 113.89 C280.60 113.91 281.00 113.92 281.40 113.91 C281.80 113.90 282.20 113.85 282.60 113.82 C283.00 113.78 283.40 113.72 283.80 113.70 C284.20 113.68 284.60 113.68 285.00 113.69 C285.40 113.71 285.80 113.76 286.20 113.80 C286.60 113.83 287.00 113.89 287.40 113.90 C287.80 113.92 288.20 113.92 288.60 113.90 C289.00 113.88 289.40 113.83 289.80 113.79 C290.20 113.76 290.60 113.71 291.00 113.69 C291.40 113.68 291.80 113.68 292.20 113.70 C292.60 113.73 293.00 113.79 293.40 113.82 C293.80 113.85 294.20 113.90 294.60 113.91 C295.00 113.92 295.40 113.91 295.80 113.89 C296.20 113.86 296.60 113.80 297.00 113.77 C297.40 113.73 297.80 113.69 298.20 113.68 C298.60 113.68 299.00 113.69 299.40 113.72 C299.80 113.75 300.20 113.81 300.60 113.84 C301.00 113.88 301.40 113.91 301.80 113.92 C302.20 113.92 302.60 113.90 303.00 113.87 C303.40 113.84 303.80 113.78 304.20 113.75 C304.60 113.71 305.00 113.68 305.40 113.68 C305.80 113.68 306.20 113.71 306.60 113.74 C307.00 113.77 307.40 113.83 307.80 113.86 C308.20 113.89 308.60 113.92 309.00 113.92 C309.40 113.92 309.80 113.88 310.20 113.85 C310.60 113.82 311.00 113.75 311.40 113.73 C311.80 113.70 312.20 113.68 312.60 113.68 C313.00 113.69 313.40 113.73 313.80 113.76 C314.20 113.80 314.60 113.86 315.00 113.88 C315.40 113.91 315.80 113.93 316.20 113.92 C316.60 113.91 317.00 113.86 317.40 113.83 C317.80 113.79 318.20 113.73 318.60 113.71 C319.00 113.69 319.40 113.68 319.80 113.69 C320.20 113.70 320.60 113.75 321.00 113.78 C321.40 113.82 321.80 113.88 322.20 113.90 C322.60 113.92 323.00 113.92 323.40 113.91 C323.80 113.89 324.20 113.84 324.60 113.80 C325.00 113.77 325.40 113.71 325.80 113.70 C326.20 113.68 326.60 113.68 327.00 113.70 C327.40 113.72 327.80 113.77 328.20 113.81 C328.60 113.84 329.00 113.90 329.40 113.90 C329.80 113.91 330.20 113.91 330.60 113.84 C331.00 113.77 331.40 113.64 331.80 113.48 C332.20 113.33 332.60 113.03 333.00 112.91 C333.40 112.78 333.80 112.67 334.20 112.72 C334.60 112.77 335.00 113.05 335.40 113.22 C335.80 113.39 336.20 113.63 336.60 113.73 C337.00 113.84 337.40 113.85 337.80 113.85 C338.20 113.86 338.60 113.78 339.00 113.76 C339.40 113.73 339.80 113.68 340.20 113.68 C340.60 113.68 341.00 113.70 341.40 113.73 C341.80 113.76 342.20 113.82 342.60 113.85 C343.00 113.89 343.40 113.92 343.80 113.92 C344.20 113.92 344.60 113.89 345.00 113.86 C345.40 113.83 345.80 113.77 346.20 113.74 C346.60 113.71 347.00 113.68 347.40 113.68 C347.80 113.68 348.20 113.72 348.60 113.75 C349.00 113.78 349.40 113.85 349.80 113.87 C350.20 113.90 350.60 113.92 351.00 113.92 C351.40 113.91 351.80 113.87 352.20 113.84 C352.60 113.80 353.00 113.74 353.40 113.72 C353.80 113.69 354.20 113.67 354.60 113.68 C355.00 113.69 355.40 113.74 355.80 113.77 C356.20 113.81 356.60 113.87 357.00 113.89 C357.40 113.91 357.80 113.92 358.20 113.91 C358.60 113.90 359.00 113.85 359.40 113.81 C359.80 113.78 360.20 113.73 360.60 113.68 C361.00 113.64 361.40 113.62 361.80 113.55 C362.20 113.48 362.60 113.37 363.00 113.27 C363.40 113.17 363.80 112.98 364.20 112.94 C364.60 112.91 365.00 112.97 365.40 113.05 C365.80 113.13 366.20 113.33 366.60 113.42 C367.00 113.52 367.40 113.57 367.80 113.61 C368.20 113.66 368.60 113.66 369.00 113.70 C369.40 113.73 369.80 113.78 370.20 113.82 C370.60 113.86 371.00 113.90 371.40 113.91 C371.80 113.93 372.20 113.91 372.60 113.89 C373.00 113.86 373.40 113.80 373.80 113.77 C374.20 113.73 374.60 113.69 375.00 113.68 C375.40 113.68 375.80 113.70 376.20 113.72 C376.60 113.75 377.00 113.81 377.40 113.84 C377.80 113.86 378.20 113.91 378.60 113.86 C379.00 113.82 379.40 113.72 379.80 113.57 C380.20 113.42 380.60 113.11 381.00 112.97 C381.40 112.82 381.80 112.66 382.20 112.69 C382.60 112.72 383.00 112.96 383.40 113.13 C383.80 113.29 384.20 113.55 384.60 113.68 C385.00 113.81 385.40 113.86 385.80 113.89 C386.20 113.92 386.60 113.87 387.00 113.85 C387.40 113.82 387.80 113.75 388.20 113.73 C388.60 113.70 389.00 113.68 389.40 113.67 C389.80 113.67 390.20 113.71 390.60 113.69 C391.00 113.66 391.40 113.62 391.80 113.51 C392.20 113.41 392.60 113.17 393.00 113.06 C393.40 112.96 393.80 112.85 394.20 112.87 C394.60 112.89 395.00 113.07 395.40 113.18 C395.80 113.30 396.20 113.45 396.60 113.55 C397.00 113.64 397.40 113.71 397.80 113.77 C398.20 113.83 398.60 113.87 399.00 113.90 C399.40 113.92 399.80 113.92 400.20 113.91 C400.60 113.89 401.00 113.84 401.40 113.80 C401.80 113.76 402.20 113.72 402.60 113.67 C403.00 113.63 403.40 113.61 403.80 113.54 C404.20 113.46 404.60 113.34 405.00 113.24 C405.40 113.14 405.80 112.96 406.20 112.93 C406.60 112.91 407.00 112.99 407.40 113.08 C407.80 113.16 408.20 113.36 408.60 113.45 C409.00 113.54 409.40 113.58 409.80 113.62 C410.20 113.66 410.60 113.67 411.00 113.71 C411.40 113.74 411.80 113.80 412.20 113.83 C412.60 113.87 413.00 113.91 413.40 113.92 C413.80 113.92 414.20 113.90 414.60 113.88 C415.00 113.85 415.40 113.79 415.80 113.76 C416.20 113.72 416.60 113.69 417.00 113.68 C417.40 113.68 417.80 113.70 418.20 113.73 C418.60 113.76 419.00 113.82 419.40 113.85 C419.80 113.89 420.20 113.92 420.60 113.92 C421.00 113.92 421.40 113.89 421.80 113.86 C422.20 113.83 422.60 113.77 423.00 113.74 C423.40 113.71 423.80 113.68 424.20 113.68 C424.60 113.68 425.00 113.72 425.40 113.75 C425.80 113.78 426.20 113.85 426.60 113.87 C427.00 113.90 427.40 113.92 427.80 113.92 C428.20 113.91 428.60 113.87 429.00 113.84 C429.40 113.80 429.80 113.74 430.20 113.72 C430.60 113.69 431.00 113.67 431.40 113.68 C431.80 113.69 432.20 113.74 432.60 113.77 C433.00 113.81 433.40 113.87 433.80 113.89 C434.20 113.91 434.60 113.92 435.00 113.91 C435.40 113.90 435.80 113.85 436.20 113.81 C436.60 113.78 437.00 113.72 437.40 113.70 C437.80 113.68 438.20 113.68 438.60 113.69 C439.00 113.71 439.40 113.76 439.80 113.80 C440.20 113.83 440.60 113.89 441.00 113.90 C441.40 113.92 441.80 113.92 442.20 113.90 C442.60 113.88 443.00 113.83 443.40 113.79 C443.80 113.76 444.20 113.70 444.60 113.69 C445.00 113.68 445.60 113.70 445.80 113.71" fill="none" stroke="#8c1c34" stroke-width="0.6" transform="translate(0 -0.3)"/>
<text x="87.70" y="45.10" font-size="6.70" text-anchor="start" fill="#674b32" textLength="60.20" lengthAdjust="spacing" stroke="#674b32" stroke-width="0.18" >MOFs + TF (1 pM)</text>
<text x="93.30" y="59.90" font-size="6.70" text-anchor="start" fill="#46698f" textLength="31.00" lengthAdjust="spacing" stroke="#46698f" stroke-width="0.18" >TF (1 pM)</text>
<text x="180.80" y="103.70" font-size="6.90" text-anchor="start" fill="#b8324f" textLength="20.00" lengthAdjust="spacing" stroke="#b8324f" stroke-width="0.15" >MOFs</text>
<text x="300.60" y="37.30" font-size="6.70" text-anchor="start" fill="#674b32" textLength="60.80" lengthAdjust="spacing" stroke="#674b32" stroke-width="0.18" >MOFs + TF (5 pM)</text>
<text x="305.70" y="58.90" font-size="6.70" text-anchor="start" fill="#46698f" textLength="30.60" lengthAdjust="spacing" stroke="#46698f" stroke-width="0.18" >TF (5 pM)</text>
<text x="383.00" y="107.20" font-size="6.90" text-anchor="start" fill="#b8324f" textLength="20.00" lengthAdjust="spacing" stroke="#b8324f" stroke-width="0.15" >MOFs</text>
<rect x="88.70" y="211.00" width="12.60" height="75.20" fill="#38a934"/>
<rect x="103.30" y="223.20" width="12.70" height="63.00" fill="#38a934"/>
<rect x="133.30" y="254.60" width="12.50" height="31.60" fill="#38a934"/>
<rect x="147.70" y="254.60" width="12.50" height="31.60" fill="#38a934"/>
<line x1="95.00" y1="211.00" x2="95.00" y2="214.00" stroke="#222" stroke-width="0.90"/>
<line x1="92.00" y1="211.00" x2="98.00" y2="211.00" stroke="#222" stroke-width="0.90"/>
<circle cx="90.20" cy="209.20" r="2.05" fill="#fff" stroke="#222" stroke-width="0.8"/>
<circle cx="94.90" cy="209.20" r="2.05" fill="#fff" stroke="#222" stroke-width="0.8"/>
<circle cx="99.80" cy="209.20" r="2.05" fill="#fff" stroke="#222" stroke-width="0.8"/>
<circle cx="94.90" cy="216.00" r="2.05" fill="#fff" stroke="#222" stroke-width="0.8"/>
<line x1="109.65" y1="218.80" x2="109.65" y2="224.50" stroke="#222" stroke-width="0.90"/>
<line x1="106.65" y1="218.80" x2="112.65" y2="218.80" stroke="#222" stroke-width="0.90"/>
<circle cx="105.10" cy="222.30" r="2.05" fill="#fff" stroke="#222" stroke-width="0.8"/>
<circle cx="109.80" cy="215.40" r="2.05" fill="#fff" stroke="#222" stroke-width="0.8"/>
<circle cx="114.80" cy="222.30" r="2.05" fill="#fff" stroke="#222" stroke-width="0.8"/>
<circle cx="109.80" cy="228.80" r="2.05" fill="#fff" stroke="#222" stroke-width="0.8"/>
<line x1="139.55" y1="250.20" x2="139.55" y2="253.00" stroke="#222" stroke-width="0.90"/>
<line x1="136.55" y1="250.20" x2="142.55" y2="250.20" stroke="#222" stroke-width="0.90"/>
<circle cx="134.70" cy="253.40" r="2.05" fill="#fff" stroke="#222" stroke-width="0.8"/>
<circle cx="139.20" cy="253.40" r="2.05" fill="#fff" stroke="#222" stroke-width="0.8"/>
<circle cx="143.60" cy="253.40" r="2.05" fill="#fff" stroke="#222" stroke-width="0.8"/>
<circle cx="139.50" cy="246.60" r="2.05" fill="#fff" stroke="#222" stroke-width="0.8"/>
<line x1="153.95" y1="250.20" x2="153.95" y2="253.00" stroke="#222" stroke-width="0.90"/>
<line x1="150.95" y1="250.20" x2="156.95" y2="250.20" stroke="#222" stroke-width="0.90"/>
<circle cx="149.50" cy="253.40" r="2.05" fill="#fff" stroke="#222" stroke-width="0.8"/>
<circle cx="153.90" cy="253.40" r="2.05" fill="#fff" stroke="#222" stroke-width="0.8"/>
<circle cx="158.20" cy="253.40" r="2.05" fill="#fff" stroke="#222" stroke-width="0.8"/>
<circle cx="153.90" cy="246.60" r="2.05" fill="#fff" stroke="#222" stroke-width="0.8"/>
<line x1="52.70" y1="167.80" x2="52.70" y2="287.00" stroke="#151515" stroke-width="1.45"/>
<line x1="49.50" y1="171.30" x2="52.70" y2="171.30" stroke="#2a2a2a" stroke-width="1.10"/>
<text x="45.20" y="174.30" font-size="8.80" text-anchor="end" fill="#1a1a1a" textLength="5.40" lengthAdjust="spacingAndGlyphs" stroke="#1a1a1a" stroke-width="0.20" >6</text>
<line x1="49.50" y1="209.60" x2="52.70" y2="209.60" stroke="#2a2a2a" stroke-width="1.10"/>
<text x="45.20" y="212.60" font-size="8.80" text-anchor="end" fill="#1a1a1a" textLength="5.40" lengthAdjust="spacingAndGlyphs" stroke="#1a1a1a" stroke-width="0.20" >4</text>
<line x1="49.50" y1="247.90" x2="52.70" y2="247.90" stroke="#2a2a2a" stroke-width="1.10"/>
<text x="45.20" y="250.90" font-size="8.80" text-anchor="end" fill="#1a1a1a" textLength="5.40" lengthAdjust="spacingAndGlyphs" stroke="#1a1a1a" stroke-width="0.20" >2</text>
<line x1="49.50" y1="286.20" x2="52.70" y2="286.20" stroke="#2a2a2a" stroke-width="1.10"/>
<text x="45.20" y="289.20" font-size="8.80" text-anchor="end" fill="#1a1a1a" textLength="5.40" lengthAdjust="spacingAndGlyphs" stroke="#1a1a1a" stroke-width="0.20" >0</text>
<line x1="52.00" y1="286.40" x2="167.80" y2="286.40" stroke="#151515" stroke-width="1.40"/>
<text x="32.20" y="252.10" font-size="9.80" text-anchor="start" fill="#1a1a1a" textLength="50.90" lengthAdjust="spacingAndGlyphs" transform="rotate(-90.00 32.20 252.10)" stroke="#1a1a1a" stroke-width="0.28" >Lag time (min)</text>
<text x="90.20" y="198.90" font-size="7.3" fill="#1a1a1a" stroke="#1a1a1a" stroke-width="0.22" textLength="23.90" lengthAdjust="spacingAndGlyphs"><tspan font-style="italic">P</tspan> = NS</text>
<line x1="90.20" y1="201.20" x2="114.10" y2="201.20" stroke="#333" stroke-width="1.25"/>
<text x="135.90" y="236.30" font-size="7.3" fill="#1a1a1a" stroke="#1a1a1a" stroke-width="0.22" textLength="23.70" lengthAdjust="spacingAndGlyphs"><tspan font-style="italic">P</tspan> = NS</text>
<line x1="135.90" y1="238.30" x2="159.60" y2="238.30" stroke="#333" stroke-width="1.25"/>
<text x="68.00" y="295.00" font-size="9.2" text-anchor="end" fill="#1a1a1a" stroke="#1a1a1a" stroke-width="0.18" transform="rotate(-45 68.00 295.00)">MOFs</text>
<text x="97.60" y="295.00" font-size="9.2" text-anchor="end" fill="#1a1a1a" stroke="#1a1a1a" stroke-width="0.18" transform="rotate(-45 97.60 295.00)">TF (&#8202;1pM)</text>
<text x="112.80" y="295.00" font-size="9.2" text-anchor="end" fill="#1a1a1a" stroke="#1a1a1a" stroke-width="0.18" transform="rotate(-45 112.80 295.00)">MOFs+TF (&#8202;1pM)</text>
<text x="142.40" y="295.00" font-size="9.2" text-anchor="end" fill="#1a1a1a" stroke="#1a1a1a" stroke-width="0.18" transform="rotate(-45 142.40 295.00)">TF (5pM)</text>
<text x="157.40" y="295.00" font-size="9.2" text-anchor="end" fill="#1a1a1a" stroke="#1a1a1a" stroke-width="0.18" transform="rotate(-45 157.40 295.00)">MOFs+TF (5pM)</text>
<text x="65.10" y="279.80" font-size="7.10" text-anchor="start" fill="#2a2a2a" textLength="73.60" lengthAdjust="spacingAndGlyphs" transform="rotate(-90.00 65.10 279.80)" stroke="#2a2a2a" stroke-width="0.05" >No significant thrombin</text>
<text x="74.50" y="280.10" font-size="7.10" text-anchor="start" fill="#2a2a2a" textLength="64.10" lengthAdjust="spacingAndGlyphs" transform="rotate(-90.00 74.50 280.10)" stroke="#2a2a2a" stroke-width="0.05" >generation detected</text>
<rect x="262.80" y="255.80" width="12.00" height="30.40" fill="#38a934"/>
<rect x="277.40" y="254.30" width="11.90" height="31.90" fill="#38a934"/>
<rect x="306.50" y="224.00" width="12.00" height="62.20" fill="#38a934"/>
<rect x="321.40" y="213.60" width="12.60" height="72.60" fill="#38a934"/>
<line x1="268.80" y1="254.30" x2="268.80" y2="258.50" stroke="#222" stroke-width="0.90"/>
<line x1="265.80" y1="254.30" x2="271.80" y2="254.30" stroke="#222" stroke-width="0.90"/>
<circle cx="264.10" cy="252.60" r="2.05" fill="#fff" stroke="#222" stroke-width="0.8"/>
<circle cx="264.10" cy="259.60" r="2.05" fill="#fff" stroke="#222" stroke-width="0.8"/>
<circle cx="268.70" cy="256.30" r="2.05" fill="#fff" stroke="#222" stroke-width="0.8"/>
<circle cx="273.30" cy="257.20" r="2.05" fill="#fff" stroke="#222" stroke-width="0.8"/>
<line x1="283.35" y1="250.30" x2="283.35" y2="256.00" stroke="#222" stroke-width="0.90"/>
<line x1="280.35" y1="250.30" x2="286.35" y2="250.30" stroke="#222" stroke-width="0.90"/>
<circle cx="278.90" cy="257.40" r="2.05" fill="#fff" stroke="#222" stroke-width="0.8"/>
<circle cx="279.80" cy="252.60" r="2.05" fill="#fff" stroke="#222" stroke-width="0.8"/>
<circle cx="283.30" cy="245.40" r="2.05" fill="#fff" stroke="#222" stroke-width="0.8"/>
<circle cx="283.70" cy="252.60" r="2.05" fill="#fff" stroke="#222" stroke-width="0.8"/>
<circle cx="287.90" cy="254.30" r="2.05" fill="#fff" stroke="#222" stroke-width="0.8"/>
<line x1="312.50" y1="219.70" x2="312.50" y2="225.70" stroke="#222" stroke-width="0.90"/>
<line x1="309.50" y1="219.70" x2="315.50" y2="219.70" stroke="#222" stroke-width="0.90"/>
<circle cx="312.80" cy="213.80" r="2.05" fill="#fff" stroke="#222" stroke-width="0.8"/>
<circle cx="312.20" cy="222.20" r="2.05" fill="#fff" stroke="#222" stroke-width="0.8"/>
<circle cx="308.30" cy="228.90" r="2.05" fill="#fff" stroke="#222" stroke-width="0.8"/>
<circle cx="317.40" cy="228.90" r="2.05" fill="#fff" stroke="#222" stroke-width="0.8"/>
<line x1="327.70" y1="207.20" x2="327.70" y2="218.20" stroke="#222" stroke-width="0.90"/>
<line x1="324.70" y1="207.20" x2="330.70" y2="207.20" stroke="#222" stroke-width="0.90"/>
<circle cx="327.50" cy="202.50" r="2.05" fill="#fff" stroke="#222" stroke-width="0.8"/>
<circle cx="323.00" cy="209.50" r="2.05" fill="#fff" stroke="#222" stroke-width="0.8"/>
<circle cx="331.90" cy="211.20" r="2.05" fill="#fff" stroke="#222" stroke-width="0.8"/>
<circle cx="327.20" cy="228.90" r="2.05" fill="#fff" stroke="#222" stroke-width="0.8"/>
<line x1="225.90" y1="167.80" x2="225.90" y2="287.00" stroke="#151515" stroke-width="1.45"/>
<line x1="222.70" y1="171.30" x2="225.90" y2="171.30" stroke="#2a2a2a" stroke-width="1.10"/>
<text x="218.40" y="174.30" font-size="8.80" text-anchor="end" fill="#1a1a1a" textLength="16.20" lengthAdjust="spacingAndGlyphs" stroke="#1a1a1a" stroke-width="0.20" >400</text>
<line x1="222.70" y1="200.00" x2="225.90" y2="200.00" stroke="#2a2a2a" stroke-width="1.10"/>
<text x="218.40" y="203.00" font-size="8.80" text-anchor="end" fill="#1a1a1a" textLength="16.20" lengthAdjust="spacingAndGlyphs" stroke="#1a1a1a" stroke-width="0.20" >300</text>
<line x1="222.70" y1="228.80" x2="225.90" y2="228.80" stroke="#2a2a2a" stroke-width="1.10"/>
<text x="218.40" y="231.80" font-size="8.80" text-anchor="end" fill="#1a1a1a" textLength="16.20" lengthAdjust="spacingAndGlyphs" stroke="#1a1a1a" stroke-width="0.20" >200</text>
<line x1="222.70" y1="257.50" x2="225.90" y2="257.50" stroke="#2a2a2a" stroke-width="1.10"/>
<text x="218.40" y="260.50" font-size="8.80" text-anchor="end" fill="#1a1a1a" textLength="16.20" lengthAdjust="spacingAndGlyphs" stroke="#1a1a1a" stroke-width="0.20" >100</text>
<line x1="222.70" y1="286.20" x2="225.90" y2="286.20" stroke="#2a2a2a" stroke-width="1.10"/>
<text x="218.40" y="289.20" font-size="8.80" text-anchor="end" fill="#1a1a1a" textLength="5.40" lengthAdjust="spacingAndGlyphs" stroke="#1a1a1a" stroke-width="0.20" >0</text>
<line x1="225.20" y1="286.40" x2="341.00" y2="286.40" stroke="#151515" stroke-width="1.40"/>
<text x="195.30" y="265.90" font-size="9.80" text-anchor="start" fill="#1a1a1a" textLength="77.80" lengthAdjust="spacingAndGlyphs" transform="rotate(-90.00 195.30 265.90)" stroke="#1a1a1a" stroke-width="0.28" >Peak thrombin (nM/L)</text>
<text x="264.10" y="236.50" font-size="7.3" fill="#1a1a1a" stroke="#1a1a1a" stroke-width="0.22" textLength="23.70" lengthAdjust="spacingAndGlyphs"><tspan font-style="italic">P</tspan> = NS</text>
<line x1="264.10" y1="238.90" x2="287.80" y2="238.90" stroke="#333" stroke-width="1.25"/>
<text x="307.90" y="194.40" font-size="7.3" fill="#1a1a1a" stroke="#1a1a1a" stroke-width="0.22" textLength="24.10" lengthAdjust="spacingAndGlyphs"><tspan font-style="italic">P</tspan> = NS</text>
<line x1="307.90" y1="196.70" x2="332.00" y2="196.70" stroke="#333" stroke-width="1.25"/>
<circle cx="234.70" cy="286.40" r="2.10" fill="#fff" stroke="#222" stroke-width="0.8"/>
<circle cx="237.70" cy="286.40" r="2.10" fill="#fff" stroke="#222" stroke-width="0.8"/>
<circle cx="240.60" cy="286.40" r="2.10" fill="#fff" stroke="#222" stroke-width="0.8"/>
<circle cx="243.60" cy="286.40" r="2.10" fill="#fff" stroke="#222" stroke-width="0.8"/>
<text x="241.20" y="295.00" font-size="9.2" text-anchor="end" fill="#1a1a1a" stroke="#1a1a1a" stroke-width="0.18" transform="rotate(-45 241.20 295.00)">MOFs</text>
<text x="270.80" y="295.00" font-size="9.2" text-anchor="end" fill="#1a1a1a" stroke="#1a1a1a" stroke-width="0.18" transform="rotate(-45 270.80 295.00)">TF (&#8202;1pM)</text>
<text x="286.00" y="295.00" font-size="9.2" text-anchor="end" fill="#1a1a1a" stroke="#1a1a1a" stroke-width="0.18" transform="rotate(-45 286.00 295.00)">MOFs+TF (&#8202;1pM)</text>
<text x="315.60" y="295.00" font-size="9.2" text-anchor="end" fill="#1a1a1a" stroke="#1a1a1a" stroke-width="0.18" transform="rotate(-45 315.60 295.00)">TF (5pM)</text>
<text x="330.60" y="295.00" font-size="9.2" text-anchor="end" fill="#1a1a1a" stroke="#1a1a1a" stroke-width="0.18" transform="rotate(-45 330.60 295.00)">MOFs+TF (5pM)</text>
<rect x="441.30" y="239.70" width="13.10" height="46.50" fill="#38a934"/>
<rect x="456.00" y="237.40" width="13.20" height="48.80" fill="#38a934"/>
<rect x="484.30" y="221.90" width="13.70" height="64.30" fill="#38a934"/>
<rect x="499.00" y="212.60" width="13.30" height="73.60" fill="#38a934"/>
<line x1="447.85" y1="237.20" x2="447.85" y2="241.00" stroke="#222" stroke-width="0.90"/>
<line x1="444.85" y1="237.20" x2="450.85" y2="237.20" stroke="#222" stroke-width="0.90"/>
<circle cx="442.90" cy="238.00" r="2.05" fill="#fff" stroke="#222" stroke-width="0.8"/>
<circle cx="442.90" cy="244.30" r="2.05" fill="#fff" stroke="#222" stroke-width="0.8"/>
<circle cx="448.00" cy="238.00" r="2.05" fill="#fff" stroke="#222" stroke-width="0.8"/>
<circle cx="453.00" cy="233.30" r="2.05" fill="#fff" stroke="#222" stroke-width="0.8"/>
<circle cx="453.00" cy="240.60" r="2.05" fill="#fff" stroke="#222" stroke-width="0.8"/>
<line x1="462.60" y1="231.00" x2="462.60" y2="238.00" stroke="#222" stroke-width="0.90"/>
<line x1="459.60" y1="231.00" x2="465.60" y2="231.00" stroke="#222" stroke-width="0.90"/>
<circle cx="462.20" cy="224.60" r="2.05" fill="#fff" stroke="#222" stroke-width="0.8"/>
<circle cx="457.30" cy="234.50" r="2.05" fill="#fff" stroke="#222" stroke-width="0.8"/>
<circle cx="467.50" cy="235.10" r="2.05" fill="#fff" stroke="#222" stroke-width="0.8"/>
<circle cx="462.20" cy="244.30" r="2.05" fill="#fff" stroke="#222" stroke-width="0.8"/>
<line x1="491.15" y1="215.30" x2="491.15" y2="220.00" stroke="#222" stroke-width="0.90"/>
<line x1="488.15" y1="215.30" x2="494.15" y2="215.30" stroke="#222" stroke-width="0.90"/>
<circle cx="491.30" cy="203.70" r="2.05" fill="#fff" stroke="#222" stroke-width="0.8"/>
<circle cx="491.00" cy="222.20" r="2.05" fill="#fff" stroke="#222" stroke-width="0.8"/>
<circle cx="486.10" cy="229.40" r="2.05" fill="#fff" stroke="#222" stroke-width="0.8"/>
<circle cx="496.00" cy="228.80" r="2.05" fill="#fff" stroke="#222" stroke-width="0.8"/>
<line x1="505.65" y1="206.60" x2="505.65" y2="218.80" stroke="#222" stroke-width="0.90"/>
<line x1="502.65" y1="206.60" x2="508.65" y2="206.60" stroke="#222" stroke-width="0.90"/>
<circle cx="505.60" cy="197.00" r="2.05" fill="#fff" stroke="#222" stroke-width="0.8"/>
<circle cx="500.60" cy="211.10" r="2.05" fill="#fff" stroke="#222" stroke-width="0.8"/>
<circle cx="510.50" cy="213.20" r="2.05" fill="#fff" stroke="#222" stroke-width="0.8"/>
<circle cx="505.60" cy="228.00" r="2.05" fill="#fff" stroke="#222" stroke-width="0.8"/>
<line x1="405.00" y1="167.80" x2="405.00" y2="287.00" stroke="#151515" stroke-width="1.45"/>
<line x1="401.80" y1="171.30" x2="405.00" y2="171.30" stroke="#2a2a2a" stroke-width="1.10"/>
<text x="397.50" y="174.30" font-size="8.80" text-anchor="end" fill="#1a1a1a" textLength="21.60" lengthAdjust="spacingAndGlyphs" stroke="#1a1a1a" stroke-width="0.20" >2500</text>
<line x1="401.80" y1="194.30" x2="405.00" y2="194.30" stroke="#2a2a2a" stroke-width="1.10"/>
<text x="397.50" y="197.30" font-size="8.80" text-anchor="end" fill="#1a1a1a" textLength="21.60" lengthAdjust="spacingAndGlyphs" stroke="#1a1a1a" stroke-width="0.20" >2000</text>
<line x1="401.80" y1="217.30" x2="405.00" y2="217.30" stroke="#2a2a2a" stroke-width="1.10"/>
<text x="397.50" y="220.30" font-size="8.80" text-anchor="end" fill="#1a1a1a" textLength="21.60" lengthAdjust="spacingAndGlyphs" stroke="#1a1a1a" stroke-width="0.20" >1500</text>
<line x1="401.80" y1="240.30" x2="405.00" y2="240.30" stroke="#2a2a2a" stroke-width="1.10"/>
<text x="397.50" y="243.30" font-size="8.80" text-anchor="end" fill="#1a1a1a" textLength="21.60" lengthAdjust="spacingAndGlyphs" stroke="#1a1a1a" stroke-width="0.20" >1000</text>
<line x1="401.80" y1="263.30" x2="405.00" y2="263.30" stroke="#2a2a2a" stroke-width="1.10"/>
<text x="397.50" y="266.30" font-size="8.80" text-anchor="end" fill="#1a1a1a" textLength="16.20" lengthAdjust="spacingAndGlyphs" stroke="#1a1a1a" stroke-width="0.20" >500</text>
<line x1="401.80" y1="286.30" x2="405.00" y2="286.30" stroke="#2a2a2a" stroke-width="1.10"/>
<text x="397.50" y="289.30" font-size="8.80" text-anchor="end" fill="#1a1a1a" textLength="5.40" lengthAdjust="spacingAndGlyphs" stroke="#1a1a1a" stroke-width="0.20" >0</text>
<line x1="404.30" y1="286.40" x2="530.00" y2="286.40" stroke="#151515" stroke-width="1.40"/>
<text x="368.60" y="254.90" font-size="9.80" text-anchor="start" fill="#1a1a1a" textLength="56.00" lengthAdjust="spacingAndGlyphs" transform="rotate(-90.00 368.60 254.90)" stroke="#1a1a1a" stroke-width="0.28" >ETP (nM/L-min)</text>
<text x="441.60" y="214.70" font-size="7.3" fill="#1a1a1a" stroke="#1a1a1a" stroke-width="0.22" textLength="23.90" lengthAdjust="spacingAndGlyphs"><tspan font-style="italic">P</tspan> = NS</text>
<line x1="441.60" y1="217.40" x2="465.50" y2="217.40" stroke="#333" stroke-width="1.25"/>
<text x="485.20" y="185.30" font-size="7.3" fill="#1a1a1a" stroke="#1a1a1a" stroke-width="0.22" textLength="24.30" lengthAdjust="spacingAndGlyphs"><tspan font-style="italic">P</tspan> = NS</text>
<line x1="485.20" y1="187.40" x2="509.50" y2="187.40" stroke="#333" stroke-width="1.25"/>
<circle cx="414.30" cy="286.40" r="2.10" fill="#fff" stroke="#222" stroke-width="0.8"/>
<circle cx="417.50" cy="286.40" r="2.10" fill="#fff" stroke="#222" stroke-width="0.8"/>
<circle cx="420.70" cy="286.40" r="2.10" fill="#fff" stroke="#222" stroke-width="0.8"/>
<circle cx="423.90" cy="286.40" r="2.10" fill="#fff" stroke="#222" stroke-width="0.8"/>
<text x="420.30" y="295.00" font-size="9.2" text-anchor="end" fill="#1a1a1a" stroke="#1a1a1a" stroke-width="0.18" transform="rotate(-45 420.30 295.00)">MOFs</text>
<text x="449.90" y="295.00" font-size="9.2" text-anchor="end" fill="#1a1a1a" stroke="#1a1a1a" stroke-width="0.18" transform="rotate(-45 449.90 295.00)">TF (&#8202;1pM)</text>
<text x="465.10" y="295.00" font-size="9.2" text-anchor="end" fill="#1a1a1a" stroke="#1a1a1a" stroke-width="0.18" transform="rotate(-45 465.10 295.00)">MOFs+TF (&#8202;1pM)</text>
<text x="494.70" y="295.00" font-size="9.2" text-anchor="end" fill="#1a1a1a" stroke="#1a1a1a" stroke-width="0.18" transform="rotate(-45 494.70 295.00)">TF (5pM)</text>
<text x="509.70" y="295.00" font-size="9.2" text-anchor="end" fill="#1a1a1a" stroke="#1a1a1a" stroke-width="0.18" transform="rotate(-45 509.70 295.00)">MOFs+TF (5pM)</text>
</svg>
</body></html>
